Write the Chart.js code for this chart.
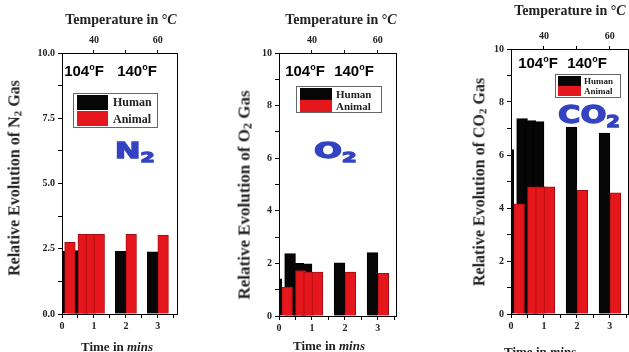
<!DOCTYPE html>
<html><head><meta charset="utf-8">
<script src="https://cdn.jsdelivr.net/npm/chart.js@4.4.1/dist/chart.umd.min.js"></script>
<style>
html,body{margin:0;padding:0;background:#fff;}
body{width:629px;height:352px;position:relative;overflow:hidden;font-family:"Liberation Serif",serif;}
canvas{position:absolute;top:0;}
.t{position:absolute;white-space:nowrap;font-weight:bold;color:#222;transform:translate(-50%,-50%);line-height:1;}
.yt{transform:translate(-50%,-50%) rotate(-90deg);}
.t sub{font-size:70%;vertical-align:-2px;}
.f{position:absolute;white-space:nowrap;font-family:"Liberation Sans",Arial,sans-serif;font-weight:bold;color:#000;font-size:15px;transform:translate(-50%,-50%);line-height:1;}
.f .o{font-size:9px;position:relative;top:-6px;}
.lg{position:absolute;border:1px solid #666;background:#fff;box-sizing:border-box;}
.sw{position:absolute;}
.lt{position:absolute;font-weight:bold;color:#222;white-space:nowrap;line-height:1;transform:translateY(-50%);}
.gas{position:absolute;color:#3343c2;font-family:"DejaVu Sans",sans-serif;font-weight:bold;white-space:nowrap;line-height:1;-webkit-text-stroke:1.3px #3343c2;}
.gas sub{vertical-align:-4px;}
</style>
</head><body>
<canvas id="c1" width="210" height="352" style="left:0"></canvas>
<canvas id="c2" width="210" height="352" style="left:210px"></canvas>
<canvas id="c3" width="209" height="352" style="left:420px"></canvas>

<!-- Panel 1 -->
<div class="t" style="left:121px;top:20px;font-size:14px">Temperature in °<i>C</i></div>
<div class="t yt" style="left:15px;top:178px;font-size:16px">Relative Evolution of N<sub>2</sub> Gas</div>
<div class="t" style="left:117px;top:346px;font-size:13px">Time in <i>mins</i></div>
<div class="f" style="left:84px;top:70px">104<span class="o">o</span>F</div>
<div class="f" style="left:137px;top:70px">140<span class="o">o</span>F</div>
<div class="lg" style="left:73px;top:93px;width:85px;height:35px">
  <div class="sw" style="left:3px;top:1px;width:31px;height:15px;background:#060606"></div>
  <div class="sw" style="left:3px;top:17px;width:31px;height:15px;background:#e5161c"></div>
  <div class="lt" style="left:39px;top:8px;font-size:12px">Human</div>
  <div class="lt" style="left:39px;top:25px;font-size:12px">Animal</div>
</div>
<div class="gas" style="left:115px;top:141px;font-size:21px;transform:scaleX(1.45);transform-origin:left top">N<sub style="font-size:14px">2</sub></div>

<!-- Panel 2 -->
<div class="t" style="left:341px;top:20px;font-size:14px">Temperature in °<i>C</i></div>
<div class="t yt" style="left:245px;top:195px;font-size:17px">Relative Evolution of O<sub>2</sub> Gas</div>
<div class="t" style="left:329px;top:345px;font-size:13px">Time in <i>mins</i></div>
<div class="f" style="left:305px;top:70px">104<span class="o">o</span>F</div>
<div class="f" style="left:354px;top:70px">140<span class="o">o</span>F</div>
<div class="lg" style="left:296px;top:86px;width:86px;height:27px">
  <div class="sw" style="left:3px;top:1px;width:32px;height:12px;background:#060606"></div>
  <div class="sw" style="left:3px;top:13px;width:32px;height:12px;background:#e5161c"></div>
  <div class="lt" style="left:39px;top:7px;font-size:11px">Human</div>
  <div class="lt" style="left:39px;top:19px;font-size:11px">Animal</div>
</div>
<div class="gas" style="left:314px;top:140px;font-size:22px;transform:scaleX(1.5);transform-origin:left top">O<sub style="font-size:14px">2</sub></div>

<!-- Panel 3 -->
<div class="t" style="left:570px;top:11px;font-size:14px">Temperature in °<i>C</i></div>
<div class="t yt" style="left:480px;top:182px;font-size:16px">Relative Evolution of CO<sub>2</sub> Gas</div>
<div class="t" style="left:540px;top:351px;font-size:13px">Time in <i>mins</i></div>
<div class="f" style="left:538px;top:62px">104<span class="o">o</span>F</div>
<div class="f" style="left:587px;top:62px">140<span class="o">o</span>F</div>
<div class="lg" style="left:555px;top:74px;width:66px;height:24px">
  <div class="sw" style="left:2px;top:1px;width:23px;height:10px;background:#060606"></div>
  <div class="sw" style="left:2px;top:11px;width:23px;height:10px;background:#e5161c"></div>
  <div class="lt" style="left:28px;top:6px;font-size:9px">Human</div>
  <div class="lt" style="left:28px;top:16px;font-size:9px">Animal</div>
</div>
<div class="gas" style="left:558px;top:102px;font-size:25px;transform:scaleX(1.22);transform-origin:left top">CO<sub style="font-size:16px">2</sub></div>

<script>
// ---- data ----
const timeMins = [0.083, 0.5, 0.75, 1, 2, 3];
const n2Human  = [2.4, 2.43, 2.4, 2.42, 2.4, 2.38];
const n2Animal = [2.75, 3.05, 3.05, 3.05, 3.05, 3.02];
const o2Human  = [1.41, 2.37, 2.0, 1.98, 2.02, 2.41];
const o2Animal = [1.1, 1.73, 1.67, 1.67, 1.67, 1.62];
const co2Human  = [6.2, 7.37, 7.3, 7.26, 7.05, 6.83];
const co2Animal = [4.16, 4.8, 4.8, 4.8, 4.67, 4.57];
const timeTicks = [0, 1, 2, 3];
const tempTicks = [40, 60];
const n2YTicks = [0, 2.5, 5, 7.5, 10];
const gasYTicks = [0, 2, 4, 6, 8, 10];

const tempAt = t => 30 + 10 * t; // top axis: 40 °C at 1 min, 60 °C at 3 min

const tickFont = {family: 'Liberation Serif', weight: 'bold', size: 10};
const tickColor = '#222';

const redOnTop = {
  id: 'redOnTop',
  beforeDatasetsDraw(chart) {
    const a = chart.chartArea, ctx = chart.ctx;
    ctx.save();
    ctx.beginPath();
    ctx.rect(a.left, a.top, a.right - a.left, a.bottom - a.top);
    ctx.clip();
    chart.getDatasetMeta(0).controller.draw();
    ctx.restore();
  },
  beforeDatasetDraw(chart, args) {
    if (args.index === 0) return false;
  }
};

function makePanel(id, c) {
  const ds = (label, vals, bg, bc) => ({
    label, data: timeMins.map((t, i) => ({x: t, y: vals[i]})),
    backgroundColor: bg, borderColor: bc, borderWidth: 1, borderSkipped: 'start',
    barThickness: c.barW, clip: 0, xAxisID: 'x', yAxisID: 'y'
  });
  const minorX = [];
  for (let v = 0; v <= c.xMax + 1e-9; v += 0.5) minorX.push(+v.toFixed(2));
  const minorY = [];
  for (let v = 0; v <= 10 + 1e-9; v += c.yMinor) minorY.push(+v.toFixed(3));
  new Chart(document.getElementById(id), {
    type: 'bar',
    data: {datasets: [
      ds('Human', c.human, '#060606', '#000000'),
      ds('Animal', c.animal, '#e5161c', '#a50c10')
    ]},
    options: {
      responsive: false, animation: false, devicePixelRatio: 1,
      layout: {padding: {left: 0, top: 0, bottom: 0, right: c.padR}},
      plugins: {legend: {display: false}, tooltip: {enabled: false}},
      scales: {
        x: {
          type: 'linear', position: 'bottom', min: 0, max: c.xMax, offset: false,
          afterBuildTicks: s => { s.ticks = minorX.map(v => ({value: v})); },
          ticks: {callback: v => timeTicks.includes(v) ? String(v) : '', font: tickFont, color: tickColor, padding: 2, maxRotation: 0, autoSkip: false},
          grid: {drawOnChartArea: false, offset: false, tickLength: 4, color: '#000'},
          border: {color: '#000', width: 1},
          afterFit: s => { s.height = 352 - c.plotB; }
        },
        xTop: {
          axis: 'x', type: 'linear', position: 'top', min: tempAt(0), max: tempAt(c.xMax), offset: false,
          afterBuildTicks: s => { s.ticks = [40, 50, 60].map(v => ({value: v})); },
          ticks: {callback: v => tempTicks.includes(v) ? String(v) : '', font: tickFont, color: tickColor, padding: 4, maxRotation: 0, autoSkip: false},
          grid: {drawOnChartArea: false, offset: false, tickLength: 3, color: '#000'},
          border: {color: '#000', width: 1},
          afterFit: s => { s.height = c.plotT; }
        },
        y: {
          type: 'linear', position: 'left', min: 0, max: 10,
          afterBuildTicks: s => { s.ticks = minorY.map(v => ({value: v})); },
          ticks: {callback: v => c.yTicks.includes(v) ? c.fmt(v) : '', font: tickFont, color: tickColor, padding: 3, autoSkip: false},
          grid: {drawOnChartArea: false, tickLength: 4, color: '#000'},
          border: {color: '#000', width: 1},
          afterFit: s => { s.width = c.plotL; }
        },
        yRight: {
          axis: 'y', type: 'linear', position: 'right', min: 0, max: 10,
          ticks: {display: false},
          grid: {drawOnChartArea: false, drawTicks: false},
          border: {color: '#000', width: 1},
          afterFit: s => { s.width = 0; }
        }
      }
    },
    plugins: [redOnTop]
  });
}

makePanel('c1', {human: n2Human, animal: n2Animal, plotL: 62, plotT: 53, plotB: 314, padR: 210 - 177,
  xMax: 3.6, barW: 10.6, yMinor: 1.25, yTicks: n2YTicks, fmt: v => v.toFixed(1)});
makePanel('c2', {human: o2Human, animal: o2Animal, plotL: 69, plotT: 53, plotB: 316, padR: 210 - 186,
  xMax: 3.55, barW: 10.8, yMinor: 1, yTicks: gasYTicks, fmt: v => String(v)});
makePanel('c3', {human: co2Human, animal: co2Animal, plotL: 91, plotT: 49, plotB: 314, padR: 209 - 208,
  xMax: 3.55, barW: 10.8, yMinor: 1, yTicks: gasYTicks, fmt: v => String(v)});
</script>
</body></html>
